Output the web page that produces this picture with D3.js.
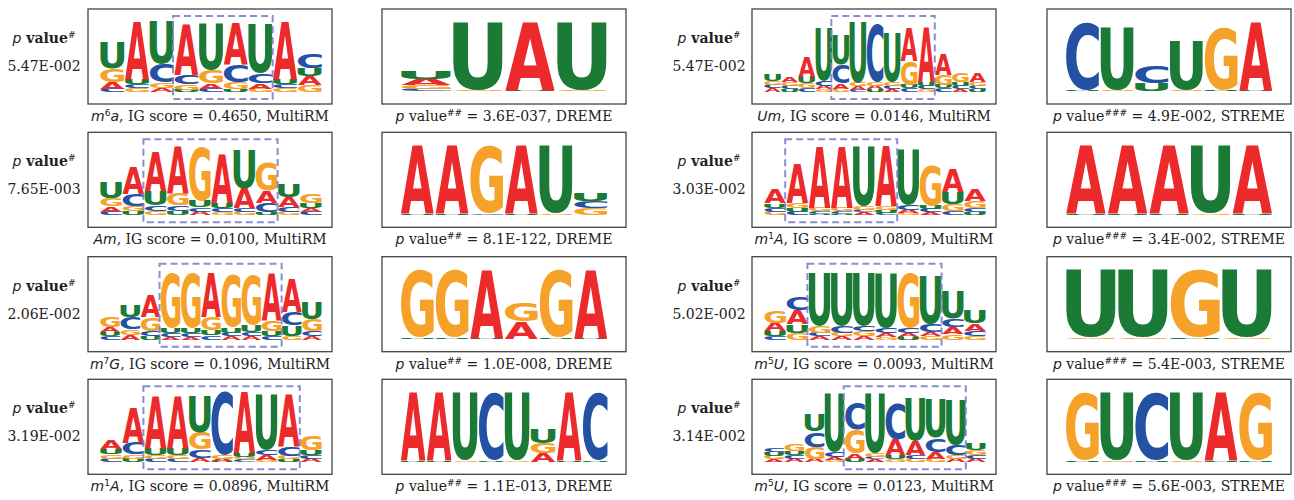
<!DOCTYPE html>
<html>
<head>
<meta charset="utf-8">
<script src="https://cdn.jsdelivr.net/npm/d3@7"></script>
<style>
  body { margin: 0; background: #fff; }
</style>
</head>
<body>
<svg id="canvas" width="1294" height="500"></svg>
<script>
// ---- data ----
const BASES = ['A', 'C', 'G', 'U'];
const baseColors = { A: '#ec2a2b', C: '#2451a4', G: '#f5a12a', U: '#1b7a35' };

// caption pieces: [before superscript, superscript, after]
const leftMods = [['m', '6', 'a'], ['Am', '', ''], ['m', '7', 'G'], ['m', '1', 'A']];
const rightMods = [['Um', '', ''], ['m', '1', 'A'], ['m', '5', 'U'], ['m', '5', 'U']];
const leftIG = ['0.4650', '0.0100', '0.1096', '0.0896'];
const rightIG = ['0.0146', '0.0809', '0.0093', '0.0123'];
const leftPvals = ['5.47E-002', '7.65E-003', '2.06E-002', '3.19E-002'];
const rightPvals = ['5.47E-002', '3.03E-002', '5.02E-002', '3.14E-002'];
const leftMotifP = ['3.6E-037', '8.1E-122', '1.0E-008', '1.1E-013'];
const rightMotifP = ['4.9E-002', '3.4E-002', '5.4E-003', '5.6E-003'];
const leftTool = 'DREME';
const rightTool = 'STREME';

// logo columns, each [A, C, G, U]
const logoM6a = [
  [.09, .05, .19, .38], [.81, .06, .05, .07], [.06, .26, .08, .60], [.72, .13, .08, .03],
  [.07, .05, .19, .67], [.60, .24, .10, .04], [.08, .14, .05, .71], [.81, .06, .05, .07],
  [.12, .21, .10, .12]
];
const logoAm = [
  [.08, .05, .12, .22], [.38, .17, .07, .06], [.55, .08, .06, .21], [.67, .08, .17, .06],
  [.05, .06, .77, .10], [.68, .06, .04, .08], [.27, .06, .05, .55], [.17, .14, .41, .04],
  [.14, .07, .05, .19], [.06, .05, .14, .07]
];
const logoM7G = [
  [.07, .05, .15, .06], [.07, .17, .08, .17], [.32, .07, .20, .05], [.04, .05, .80, .07],
  [.04, .05, .80, .07], [.64, .06, .19, .07], [.05, .05, .75, .08], [.05, .06, .72, .10],
  [.67, .05, .15, .07], [.47, .20, .05, .15], [.05, .07, .17, .25]
];
const logoM1A = [
  [.13, .05, .06, .08], [.50, .17, .06, .05], [.75, .05, .05, .10], [.75, .05, .05, .10],
  [.06, .12, .24, .53], [.03, .90, .05, .02], [.87, .04, .04, .05], [.07, .07, .04, .80],
  [.75, .14, .05, .04], [.05, .05, .22, .07]
];
const logoUm = [
  [.05, .05, .05, .10], [.08, .05, .06, .04], [.27, .05, .07, .10], [.05, .07, .04, .75],
  [.07, .27, .05, .42], [.05, .03, .05, .87], [.05, .83, .05, .04], [.04, .05, .05, .70],
  [.46, .05, .34, .05], [.78, .05, .04, .05], [.30, .05, .15, .05], [.04, .05, .13, .05],
  [.12, .05, .05, .04]
];
const logoM1A2 = [
  [.20, .06, .05, .06], [.56, .05, .07, .05], [.88, .04, .05, .02], [.88, .04, .05, .02],
  [.04, .04, .05, .85], [.85, .03, .06, .04], [.05, .07, .03, .80], [.04, .05, .58, .05],
  [.34, .06, .10, .17], [.17, .06, .10, .04]
];
const logoM5U = [
  [.12, .05, .17, .07], [.20, .20, .10, .12], [.05, .05, .10, .76], [.05, .10, .05, .76],
  [.05, .08, .07, .76], [.05, .07, .04, .78], [.05, .07, .80, .04], [.06, .12, .05, .68],
  [.10, .12, .08, .40], [.10, .08, .05, .18]
];
const logoM5U2 = [
  [.04, .06, .05, .05], [.05, .05, .10, .06], [.05, .22, .17, .25], [.04, .07, .03, .83],
  [.08, .38, .34, .05], [.04, .04, .05, .85], [.22, .53, .04, .06], [.20, .06, .05, .60],
  [.10, .20, .05, .55], [.05, .15, .05, .65], [.05, .05, .08, .10]
];

const motifD1 = [[.09, .03, .06, .11], [0, 0, .02, .98], [.97, 0, 0, .02], [0, 0, .02, .98]];
const motifD2 = [[.98, 0, 0, .02], [.98, 0, 0, .02], [0, .02, .98, 0], [.98, 0, 0, .02], [0, 0, .02, .98], [0, .10, .09, .12]];
const motifD3 = [[0, 0, .98, .02], [0, 0, .98, .02], [.98, 0, 0, .02], [.25, 0, .27, 0], [0, 0, .98, .02], [.98, 0, 0, .02]];
const motifD4 = [[.98, 0, 0, .02], [.98, 0, 0, .02], [0, 0, .02, .98], [0, .98, 0, .02], [0, 0, .02, .98], [.12, 0, .15, .20], [.98, 0, 0, .02], [0, .98, 0, .02]];
const motifS1 = [[0, .98, 0, .02], [0, 0, .02, .90], [0, .25, 0, .12], [0, 0, .02, .70], [0, 0, .90, .02], [.98, 0, 0, .02]];
const motifS2 = [[.98, 0, 0, .02], [.98, 0, 0, .02], [.98, 0, 0, .02], [0, 0, .02, .98], [.98, 0, 0, .02]];
const motifS3 = [[0, 0, .02, .98], [0, 0, .02, .98], [0, 0, .98, .02], [0, 0, .02, .98]];
const motifS4 = [[0, 0, .98, .02], [0, 0, .02, .98], [0, .98, 0, .02], [0, 0, .02, .98], [.98, 0, 0, .02], [0, 0, .98, .02]];

const leftLogos = [logoM6a, logoAm, logoM7G, logoM1A];
const rightLogos = [logoUm, logoM1A2, logoM5U, logoM5U2];
const leftMotifs = [motifD1, motifD2, motifD3, motifD4];
const rightMotifs = [motifS1, motifS2, motifS3, motifS4];
// highlighted window [first col, last col]
const leftWindows = [[3, 6], [2, 7], [3, 8], [2, 8]];
const rightWindows = [[4, 9], [1, 5], [2, 7], [4, 9]];

// ---- layout ----
const rowTops = [9, 132.3, 256.7, 379.3];
const boxH = 95;
const boxW = 244;
const halves = [
  { labelX: 44, logoX: 88, motifX: 382, mods: leftMods, ig: leftIG, pv: leftPvals, mp: leftMotifP, tool: leftTool, hashes: '##', logos: leftLogos, motifs: leftMotifs, wins: leftWindows },
  { labelX: 709, logoX: 752, motifX: 1047, mods: rightMods, ig: rightIG, pv: rightPvals, mp: rightMotifP, tool: rightTool, hashes: '###', logos: rightLogos, motifs: rightMotifs, wins: rightWindows }
];

const svg = d3.select('#canvas');
const serif = '"DejaVu Serif", serif';
const sans = '"DejaVu Sans", sans-serif';
const letterFont = '"DejaVu Sans"';

// tight ink bounds of each letter
const ctx = document.createElement('canvas').getContext('2d');
ctx.font = 'bold 200px ' + letterFont;
const glyph = {};
BASES.forEach(b => {
  let m = ctx.measureText(b);
  glyph[b] = { l: m.actualBoundingBoxLeft, r: m.actualBoundingBoxRight, a: m.actualBoundingBoxAscent, d: m.actualBoundingBoxDescent };
});

let drawLogo = (g, cols, x0, width, yTop, yBase, widthFrac) => {
  let x = d3.scaleBand().domain(d3.range(cols.length)).range([x0, x0 + width]);
  let y = d3.scaleLinear().domain([0, 1]).range([yBase, yTop]);
  let stacks = [];
  cols.forEach((c, i) => {
    let items = BASES.map((b, k) => ({ b: b, v: c[k] })).filter(d => d.v > 0)
      .sort((p, q) => p.v - q.v);
    let acc = 0;
    items.forEach(d => {
      stacks.push({ col: i, b: d.b, y0: acc, y1: acc + d.v });
      acc += d.v;
    });
  });
  let bw = x.bandwidth() * widthFrac;
  g.selectAll('text.letter')
    .data(stacks.filter(d => y(d.y0) - y(d.y1) > 0.4))
    .enter()
    .append('text')
    .attr('class', 'letter')
    .attr('font-family', letterFont)
    .attr('font-weight', 'bold')
    .attr('font-size', 200)
    .attr('fill', d => baseColors[d.b])
    .attr('x', d => glyph[d.b].l)
    .attr('y', d => -glyph[d.b].d)
    .attr('transform', d => {
      let gl = glyph[d.b];
      let h = y(d.y0) - y(d.y1);
      let bx = x(d.col) + (x.bandwidth() - bw) / 2;
      return 'translate(' + bx + ',' + y(d.y0) + ') scale(' + (bw / (gl.l + gl.r)) + ',' + (h / (gl.a + gl.d)) + ')';
    })
    .text(d => d.b);
  return x;
};

let addPLabel = (t, hashes) => {
  t.append('tspan').attr('font-family', sans).attr('font-style', 'italic').attr('font-weight', 'normal').text('p');
  t.append('tspan').text(' value');
  t.append('tspan').attr('font-size', 9).attr('font-weight', 'normal').attr('dy', -5).text(hashes);
};

halves.forEach(h => {
  rowTops.forEach((top, r) => {
    // p value label
    let t1 = svg.append('text')
      .attr('x', h.labelX).attr('y', top + 34)
      .attr('text-anchor', 'middle')
      .attr('font-family', serif).attr('font-size', 14).attr('font-weight', 'bold')
      .attr('fill', '#222');
    addPLabel(t1, '#');
    svg.append('text')
      .attr('x', h.labelX).attr('y', top + 62)
      .attr('text-anchor', 'middle')
      .attr('font-family', serif).attr('font-size', 14)
      .attr('fill', '#222')
      .text(h.pv[r]);

    // MultiRM logo
    let g = svg.append('g');
    let x = drawLogo(g, h.logos[r], h.logoX + 12, 222, top + 13, top + 83, 0.97);
    let w = h.wins[r];
    g.append('rect')
      .attr('x', x(w[0]) - 1)
      .attr('y', top + 7)
      .attr('width', x(w[1]) + x.bandwidth() - x(w[0]) + 1)
      .attr('height', 83)
      .attr('fill', 'none')
      .attr('stroke', '#7c83c9')
      .attr('stroke-width', 2)
      .attr('stroke-dasharray', '7,4')
      .attr('opacity', 0.9);
    svg.append('rect')
      .attr('x', h.logoX).attr('y', top)
      .attr('width', boxW).attr('height', boxH)
      .attr('fill', 'none').attr('stroke', '#444').attr('stroke-width', 1.3);

    let cap = svg.append('text')
      .attr('x', h.logoX + boxW / 2).attr('y', top + 112)
      .attr('text-anchor', 'middle')
      .attr('font-family', serif).attr('font-size', 14).attr('fill', '#222');
    let m = h.mods[r];
    cap.append('tspan').attr('font-family', sans).attr('font-style', 'italic').text(m[0]);
    if (m[1]) {
      cap.append('tspan').attr('font-family', sans).attr('font-size', 9).attr('dy', -5).text(m[1]);
      cap.append('tspan').attr('font-family', sans).attr('font-style', 'italic').attr('dy', 5).text(m[2]);
    }
    cap.append('tspan').text(', IG score = ' + h.ig[r] + ', MultiRM');

    // motif logo
    let g2 = svg.append('g');
    drawLogo(g2, h.motifs[r], h.motifX + 18, 208, top + 13, top + 82.5, 0.95);
    svg.append('rect')
      .attr('x', h.motifX).attr('y', top)
      .attr('width', boxW).attr('height', boxH)
      .attr('fill', 'none').attr('stroke', '#444').attr('stroke-width', 1.3);
    let cap2 = svg.append('text')
      .attr('x', h.motifX + boxW / 2).attr('y', top + 112)
      .attr('text-anchor', 'middle')
      .attr('font-family', serif).attr('font-size', 14).attr('fill', '#222');
    addPLabel(cap2, h.hashes);
    cap2.append('tspan').attr('dy', 5).text(' = ' + h.mp[r] + ', ' + h.tool);
  });
});
</script>
</body>
</html>
